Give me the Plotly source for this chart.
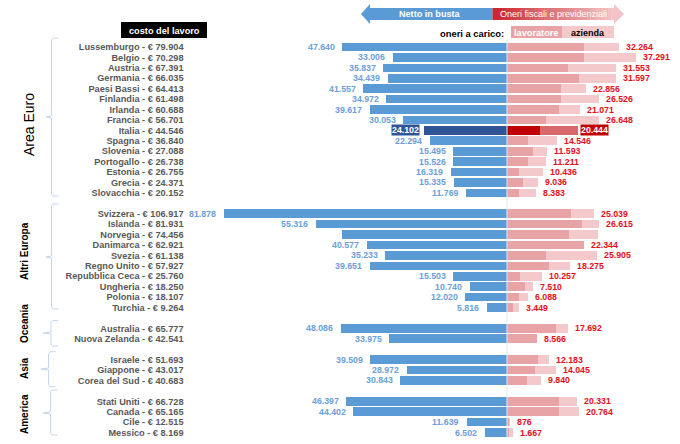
import plotly.graph_objects as go

W, H = 680, 444

countries = ["Lussemburgo", "Belgio", "Austria", "Germania", "Paesi Bassi", "Finlandia", "Irlanda", "Francia",
             "Italia", "Spagna", "Slovenia", "Portogallo", "Estonia", "Grecia", "Slovacchia",
             "Svizzera", "Islanda", "Norvegia", "Danimarca", "Svezia", "Regno Unito", "Repubblica Ceca",
             "Ungheria", "Polonia", "Turchia",
             "Australia", "Nuova Zelanda",
             "Israele", "Giappone", "Corea del Sud",
             "Stati Uniti", "Canada", "Cile", "Messico"]
labour_cost = ["79.904", "70.298", "67.391", "66.035", "64.413", "61.498", "60.688", "56.701",
               "44.546", "36.840", "27.088", "26.738", "26.755", "24.371", "20.152",
               "106.917", "81.931", "74.456", "62.921", "61.138", "57.927", "25.760",
               "18.250", "18.107", "9.264",
               "65.777", "42.541",
               "51.693", "43.017", "40.683",
               "66.728", "65.165", "12.515", "8.169"]
rows = [0, 1, 2, 3, 4, 5, 6, 7, 8, 9, 10, 11, 12, 13, 14,
        16, 17, 18, 19, 20, 21, 22, 23, 24, 25,
        27, 28,
        30, 31, 32,
        34, 35, 36, 37]
net_pay = [47640, 33006, 35837, 34439, 41557, 34972, 39617, 30053,
           24102, 22294, 15495, 15526, 16319, 15335, 11769,
           81878, 55316, 47700, 40577, 35233, 39651, 15503,
           10740, 12020, 5816,
           48086, 33975,
           39509, 28972, 30843,
           46397, 44402, 11639, 6502]
charges_total = [32264, 37291, 31553, 31597, 22856, 26526, 21071, 26648,
                 20444, 14546, 11593, 11211, 10436, 9036, 8383,
                 25039, 26615, 26400, 22344, 25905, 18275, 10257,
                 7510, 6088, 3449,
                 17692, 8566,
                 12183, 14045, 9840,
                 20331, 20764, 876, 1667]
charges_worker = [22350, 22150, 17720, 20900, 15700, 15700, 14930, 11360,
                  9440, 5970, 7600, 5970, 3560, 4530, 3560,
                  18590, 21570, 18000, 22344, 11170, 12130, 3660,
                  5300, 3470, 1830,
                  14160, 8566,
                  9050, 8190, 5680,
                  15120, 15120, 670, 480]
hide_labels = ["Norvegia"]
highlight = "Italia"

BLUE, DARK_BLUE = "#5b9bd5", "#2f5597"
PINK, LIGHT_PINK = "#e8a3a6", "#f4c9cb"
RED, LIGHT_RED = "#c00000", "#d9686c"
FONT = "Liberation Sans"

px = lambda x: x / W
py = lambda y: 1 - y / H


def pick(hi, normal):
    return [hi if c == highlight else normal for c in countries]


fig = go.Figure()
fig.add_bar(y=rows, x=[-v for v in net_pay], orientation="h", width=0.83,
            marker=dict(color=pick(DARK_BLUE, BLUE), line_width=0), name="Netto in busta")
fig.add_bar(y=rows, x=charges_total, orientation="h", width=0.83,
            marker=dict(color=pick(LIGHT_RED, LIGHT_PINK), line_width=0), name="azienda")
fig.add_bar(y=rows, x=charges_worker, orientation="h", width=0.83,
            marker=dict(color=pick(RED, PINK), line_width=0), name="lavoratore")

annotations = []
for c, r, n, t in zip(countries, rows, net_pay, charges_total):
    if c in hide_labels:
        continue
    hi = c == highlight
    fmt = lambda v: f"{v:,}".replace(",", ".")
    annotations.append(dict(x=-n, y=r, xref="x", yref="y", text=f"<b>{fmt(n)}</b>", showarrow=False,
                            xanchor="right", xshift=-3.5 if hi else -6.5,
                            font=dict(family=FONT, size=8.8, color="white" if hi else "#6a9fd8"),
                            bgcolor=DARK_BLUE if hi else None, borderpad=0))
    annotations.append(dict(x=t, y=r, xref="x", yref="y", text=f"<b>{fmt(t)}</b>", showarrow=False,
                            xanchor="left", xshift=2.5 if hi else 6,
                            font=dict(family=FONT, size=8.8, color="white" if hi else "#e3101c"),
                            bgcolor=RED if hi else None, borderpad=0))

def text(x, y, s, size=10, color="black", anchor="center", angle=0, bold=True, bg=None):
    annotations.append(dict(x=px(x), y=py(y), xref="paper", yref="paper", showarrow=False,
                            text=f"<b>{s}</b>" if bold else s, xanchor=anchor, yanchor="middle",
                            textangle=angle, bgcolor=bg,
                            font=dict(family=FONT, size=size, color=color)))

text(164.5, 30.5, "costo del lavoro", size=9.2, color="white")
text(430, 14, "Netto in busta", size=9.1, color="white")
text(553.5, 14.5, "Oneri fiscali e previdenziali", size=9, color="white", bold=False)
text(506, 33, "oneri a carico:", size=9.4, anchor="right")
text(536, 33, "lavoratore", size=9.2, color="white")
text(588, 33, "azienda", size=9)
text(29, 125, "Area Euro", size=14, angle=-90, bold=False)
text(24, 251, "Altri Europa", size=10, angle=-90)
text(24, 324, "Oceania", size=10, angle=-90)
text(24, 368, "Asia", size=10, angle=-90)
text(24, 414, "America", size=10, angle=-90)

shapes = []


def rect(x0, y0, x1, y1, color):
    shapes.append(dict(type="rect", xref="paper", yref="paper", x0=px(x0), x1=px(x1), y0=py(y0), y1=py(y1),
                       fillcolor=color, line_width=0, layer="below"))


def poly(points, color=None, line=None):
    d = "M" + " L".join(f"{px(x):.5f},{py(y):.5f}" for x, y in points)
    shapes.append(dict(type="path", xref="paper", yref="paper", path=d + (" Z" if color else ""),
                       fillcolor=color, line=dict(color=line, width=1) if line else dict(width=0),
                       layer="below"))


# black title box, legend swatches
rect(121, 22, 207, 38, "black")
rect(511, 26, 562, 38, PINK)
rect(562, 26, 614, 38, LIGHT_PINK)

# header arrows
poly([(361, 14), (370, 4), (370, 8), (492.5, 8), (492.5, 20), (370, 20), (370, 24)], BLUE)
steps = 40
c0, c1 = (200, 38, 44), (243, 196, 199)
for i in range(steps):
    f = i / (steps - 1)
    col = "rgb(%d,%d,%d)" % tuple(round(a + (b - a) * f) for a, b in zip(c0, c1))
    a = 492.5 + (614.5 - 492.5) * i / steps
    rect(a, 8, a + (614.5 - 492.5) / steps + 0.4, 20, col)
poly([(614, 4), (624, 14), (614, 24)], "#f3c4c7")

# group braces
braces = [(51.5, 38, 196, 46, 117), (51.5, 204, 309, 46, 257), (51, 320.5, 346, 43, 333),
          (48.5, 351.7, 386.7, 41, 369), (50.5, 390, 435, 43, 413)]
for sx, top, bot, tip, mid in braces:
    poly([(sx + 7, top), (sx + 1.5, top), (sx, top + 2), (sx, mid - 1), (tip, mid), (sx, mid + 1),
          (sx, bot - 2), (sx + 1.5, bot), (sx + 7, bot)], line="#c5d6ea")

# central axis line
shapes.append(dict(type="line", xref="x", yref="paper", x0=0, x1=0, y0=py(437), y1=py(40),
                   line=dict(color="#dfe8f3", width=1), layer="above"))

SCALE = 0.00346
CX = 507.0
ROW0, ROWH = 47.0, 10.42

fig.update_layout(
    width=W, height=H, autosize=False,
    margin=dict(l=0, r=0, t=0, b=0, pad=0),
    paper_bgcolor="white", plot_bgcolor="rgba(0,0,0,0)",
    barmode="overlay", showlegend=False, bargap=0,
    xaxis=dict(range=[-CX / SCALE, (W - CX) / SCALE], visible=False, fixedrange=True),
    yaxis=dict(range=[(H - ROW0) / ROWH, -ROW0 / ROWH], anchor="free", position=183.5 / W, side="left",
               tickmode="array", tickvals=rows,
               ticktext=[f"{c} - € {v}" for c, v in zip(countries, labour_cost)],
               ticks="", showgrid=False, zeroline=False, showline=False, ticklabelstandoff=0,
               tickfont=dict(family=FONT, size=9.2, color="#595959", weight="bold"), fixedrange=True),
    annotations=annotations, shapes=shapes,
)
fig.write_html("out.html", config=dict(displayModeBar=False),
               post_script="document.body.style.margin='0';")
